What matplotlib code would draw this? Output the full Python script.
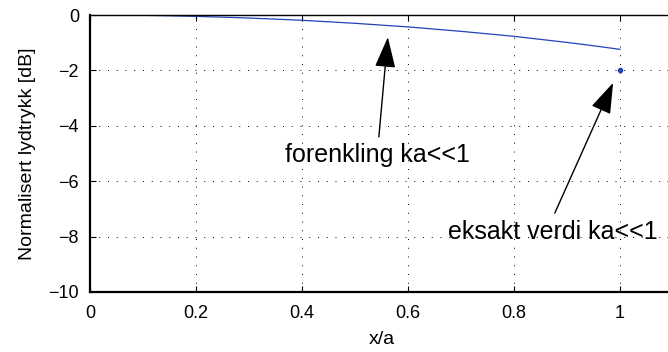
import matplotlib
matplotlib.use('Agg')
import matplotlib.pyplot as plt

# data
x_a = [0.0, 0.05, 0.1, 0.15, 0.2, 0.25, 0.3, 0.35, 0.4, 0.45, 0.5,
       0.55, 0.6, 0.65, 0.7, 0.75, 0.8, 0.85, 0.9, 0.95, 1.0]
forenkling = [0.0, -0.003, -0.012, -0.028, -0.05, -0.078, -0.11, -0.15, -0.19, -0.245, -0.30,
              -0.365, -0.43, -0.51, -0.59, -0.68, -0.77, -0.88, -0.99, -1.11, -1.24]
eksakt_x = [1.0]
eksakt_y = [-1.97]

xticks = [0, 0.2, 0.4, 0.6, 0.8, 1]
xticklabels = ['0', '0.2', '0.4', '0.6', '0.8', '1']
yticks = [-10, -8, -6, -4, -2, 0]
yticklabels = ['\u221210', '\u22128', '\u22126', '\u22124', '\u22122', '0']

plt.rcParams['font.family'] = ['Liberation Sans', 'DejaVu Sans']

fig = plt.figure(figsize=(6.68, 3.52), dpi=100)
ax = fig.add_axes([90 / 668, 60 / 352, 583 / 668, 277 / 352])

ax.plot(x_a, forenkling, color='#2242b8', lw=0.9)
ax.plot(eksakt_x, eksakt_y, '.', color='#2242b8', markersize=6)

ax.set_xlim(0, 1.1)
ax.set_ylim(-10, 0)
ax.set_xticks(xticks)
ax.set_xticklabels(xticklabels)
ax.set_yticks(yticks)
ax.set_yticklabels(yticklabels)
ax.tick_params(direction='in', top=True, right=True, labelsize=13, length=4)
ax.tick_params(axis='x', pad=9)
ax.tick_params(axis='y', pad=8)
ax.grid(True, color='black', linestyle=(0, (1, 8)), lw=0.7)

for side in ['left', 'bottom']:
    ax.spines[side].set_linewidth(1.6)
ax.spines['top'].set_linewidth(1.0)

ax.set_xlabel('x/a', fontsize=14, labelpad=7)
ax.set_ylabel('Normalisert lydtrykk [dB]', fontsize=14, labelpad=9)

arrow = dict(arrowstyle='-|>,head_length=0.8,head_width=0.27', color='black', lw=1.0,
             mutation_scale=24, shrinkA=0, shrinkB=0)
ax.annotate('', xy=(0.562, -0.8), xytext=(0.545, -4.4), arrowprops=arrow)
ax.text(0.542, -5.05, 'forenkling ka<<1', fontsize=18, va='center', ha='center')
ax.annotate('', xy=(0.987, -2.45), xytext=(0.877, -7.15), arrowprops=arrow)
ax.text(0.874, -7.85, 'eksakt verdi ka<<1', fontsize=18, va='center', ha='center')

fig.savefig('out.png', dpi=100)
print("Plot saved as out.png")
